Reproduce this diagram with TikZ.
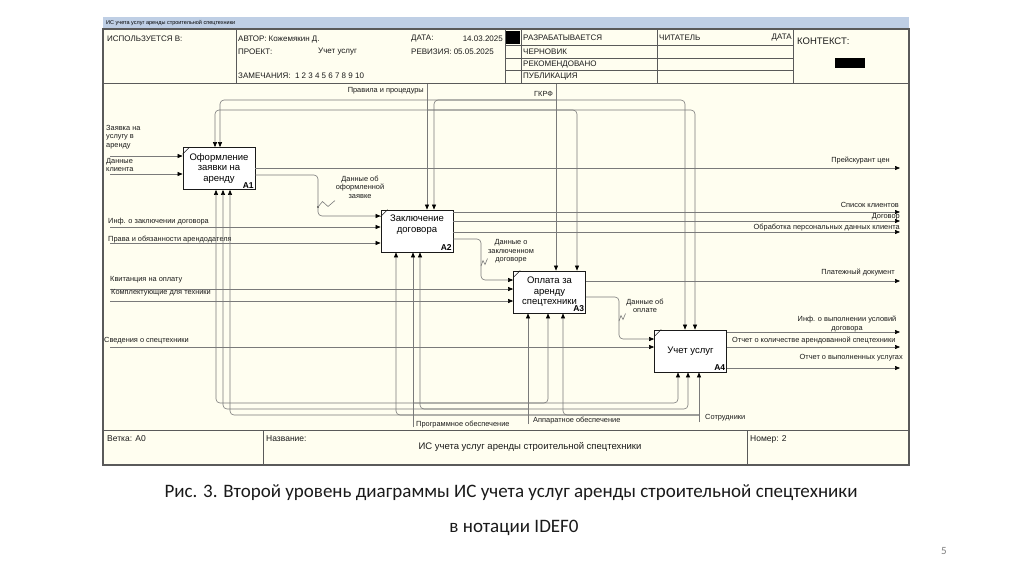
\documentclass[tikz,border=0pt]{standalone}
\usepackage{fontspec}
\setmainfont{Liberation Sans}
\newfontfamily\capfont{Carlito}
\usetikzlibrary{arrows.meta}
\definecolor{paper}{HTML}{FFFEF0}
\definecolor{band}{HTML}{BFCFE5}
\definecolor{wire}{HTML}{7A7A7A}
\definecolor{rim}{HTML}{5A5A5A}
\definecolor{ink}{HTML}{1A1A1A}
\tikzset{
  fn/.style={rectangle, draw=ink, fill=white, line width=0.8pt, minimum width=72pt,
             minimum height=42pt, align=center, inner sep=0pt,
             font=\fontsize{9.5}{10.5}\selectfont},
  fnid/.style={anchor=south east, inner sep=1.5pt, font=\bfseries\fontsize{8.5}{9}\selectfont},
  fl/.style={draw=wire, line width=0.6pt, rounded corners=4pt,
             -{Triangle[length=5pt,width=4pt,color=black]}},
  ln/.style={draw=wire, line width=0.6pt},
  lbl/.style={inner sep=0pt, text=ink, font=\fontsize{7.4}{8.5}\selectfont},
  hd/.style={anchor=west, inner sep=0pt, text=ink, font=\fontsize{8}{9}\selectfont},
  ft/.style={anchor=west, inner sep=0pt, text=ink, font=\fontsize{8.5}{9}\selectfont}
}
\begin{document}
\begin{tikzpicture}[x=1pt,y=-1pt]
  \useasboundingbox (0,0) rectangle (1024,574);
  \fill[white] (0,0) rectangle (1024,574);

  % sheet and title band
  \fill[paper] (103,29) rectangle (909,465);
  \fill[band] (103,17) rectangle (909,29);
  \node[anchor=west, inner sep=0pt, font=\fontsize{5.5}{6}\selectfont] (band) at (106,23)
    {ИС учета услуг аренды строительной спецтехники};

  % header grid
  \draw[rim] (103,83) -- (909,83);
  \foreach \x in {236,505,521,657,793} \draw[rim] (\x,29) -- (\x,83);
  \foreach \r in {45,58,70} \draw[rim] (505,\r) -- (793,\r);
  \fill[black] (506,31) rectangle (520,44);
  \fill[black] (835,58) rectangle (865,68);

  \node[hd] (used) at (107,39) {ИСПОЛЬЗУЕТСЯ В:};
  \node[hd] (author) at (238,39) {АВТОР: Кожемякин Д.};
  \node[hd] (project) at (238,52) {ПРОЕКТ:};
  \node[hd] (projname) at (318,52) {Учет услуг};
  \node[hd] (notes) at (238,76) {ЗАМЕЧАНИЯ:\ \ 1 2 3 4 5 6 7 8 9 10};
  \node[hd] (date) at (411,39) {ДАТА:};
  \node[hd, anchor=east] (dateval) at (503,39) {14.03.2025};
  \node[hd] (rev) at (411,52) {РЕВИЗИЯ: 05.05.2025};
  \node[hd] (st1) at (523,38) {РАЗРАБАТЫВАЕТСЯ};
  \node[hd] (st2) at (523,51.5) {ЧЕРНОВИК};
  \node[hd] (st3) at (523,64) {РЕКОМЕНДОВАНО};
  \node[hd] (st4) at (523,76.5) {ПУБЛИКАЦИЯ};
  \node[hd] (reader) at (659,38) {ЧИТАТЕЛЬ};
  \node[hd, anchor=east] (rdate) at (792,38) {ДАТА};
  \node[hd, font=\fontsize{9.5}{10}\selectfont] (context) at (797,41) {КОНТЕКСТ:};

  % footer
  \draw[rim] (103,430) -- (909,430);
  \draw[rim] (263,430) -- (263,465);
  \draw[rim] (747,430) -- (747,465);
  \node[ft] (branch) at (107,439) {Ветка: A0};
  \node[ft] (name) at (266,439) {Название:};
  \node[ft, anchor=center, font=\fontsize{9.5}{10}\selectfont] (title) at (530,447)
    {ИС учета услуг аренды строительной спецтехники};
  \node[ft] (number) at (750,439) {Номер: 2};
  \draw[rim, line width=1.2pt] (103,29) rectangle (909,465);

  % function blocks
  \node[fn] (a1) at (219,168.5) {Оформление\\заявки на\\аренду};
  \node[fn] (a2) at (417,231) {Заключение\\договора\\[4pt]};
  \node[fn] (a3) at (549.5,292) {Оплата за\\аренду\\спецтехники};
  \node[fn] (a4) at (690.5,351) {Учет услуг};
  \foreach \b/\t in {a1/A1,a2/A2,a3/A3,a4/A4} {
    \node[fnid] (\b id) at (\b.south east) {\t};
    \draw[ink, line width=0.6pt] (\b.north west) ++(0,7) -- ++(7,-7);
  }

  % inputs
  \coordinate (i1) at (110,156);
  \coordinate (i2) at (110,174);
  \coordinate (i3) at (110,227);
  \coordinate (i4) at (110,243);
  \coordinate (i5) at (110,289);
  \coordinate (i6) at (110,301);
  \coordinate (i7) at (110,347);
  \foreach \c/\b in {i1/a1,i2/a1,i3/a2,i4/a2,i5/a3,i6/a3,i7/a4}
    \draw[fl] (\c) -- (\c -| \b.west);

  \node[lbl, anchor=north west, align=left] (li1) at (106,125) {Заявка на\\услугу в\\аренду};
  \node[lbl, anchor=north west, align=left] (li2) at (106,158) {Данные\\клиента};
  \node[lbl, anchor=west] (li3) at (108,222) {Инф. о заключении договора};
  \node[lbl, anchor=west] (li4) at (108,240) {Права и обязанности арендодателя};
  \node[lbl, anchor=west] (li5) at (110,280) {Квитанция на оплату};
  \node[lbl, anchor=west] (li6) at (111,293) {Комплектующие для техники};
  \node[lbl, anchor=west] (li7) at (104,341) {Сведения о спецтехники};

  % outputs
  \coordinate (o1) at (900,168);
  \coordinate (o2) at (900,212);
  \coordinate (o3) at (900,221);
  \coordinate (o4) at (900,232);
  \coordinate (o5) at (900,281);
  \coordinate (o6) at (900,332);
  \coordinate (o7) at (900,347);
  \coordinate (o8) at (900,368);
  \foreach \c/\b in {o1/a1,o2/a2,o3/a2,o4/a2,o5/a3,o6/a4,o7/a4,o8/a4}
    \draw[fl] (\c -| \b.east) -- (\c);

  \node[lbl, anchor=east] (lo1) at (890,161) {Прейскурант цен};
  \node[lbl, anchor=east] (lo2) at (899,205) {Список клиентов};
  \node[lbl, anchor=east] (lo3) at (900,217) {Договор};
  \node[lbl, anchor=east] (lo4) at (900,227.5) {Обработка персональных данных клиента};
  \node[lbl, anchor=east] (lo5) at (895,273) {Платежный документ};
  \node[lbl, align=center] (lo6) at (847,324) {Инф. о выполнении условий\\договора};
  \node[lbl, anchor=west] (lo7) at (732,341) {Отчет о количестве арендованной спецтехники};
  \node[lbl, anchor=east] (lo8) at (903,358) {Отчет о выполненных услугах};

  % links between blocks
  \draw[fl] (a1.east |- 0,175) -| (318,216) -- (a2.west |- 0,216);
  \draw[fl] (a2.east |- 0,239) -| (481,280) -- (a3.west |- 0,280);
  \draw[fl] (a3.east |- 0,297) -| (619,339) -- (a4.west |- 0,339);
  \node[lbl, align=center] (l12) at (360,187) {Данные об\\оформленной\\заявке};
  \node[lbl, align=center] (l23) at (511,251.5) {Данные о\\заключенном\\договоре};
  \node[lbl, align=center] (l34) at (645,306) {Данные об\\оплате};
  \fill[ink] (318,207) circle (0.9);
  \draw[ln] (318,207) -- (322.5,201.5) -- (328,206.5) -- (335,200.5);
  \draw[ln] (481,266) -- (483,260.5) -- (485,264.5) -- (487.5,258.5);
  \draw[ln] (619,321) -- (621,315.5) -- (623,319.5) -- (625.5,313.5);

  % controls
  \coordinate (gk) at (556,84);
  \coordinate (pr) at (427,84);
  \draw[fl] (gk) -- (gk |- a3.north);
  \draw[fl] (pr) -- (pr |- a2.north);
  \draw[fl] (gk |- 0,100) -| (a1.north -| 220,0);
  \draw[fl] (gk |- 0,100) -| (a2.north -| 434,0);
  \draw[fl] (gk |- 0,100) -| (a4.north -| 685,0);
  \draw[fl] (pr |- 0,110) -| (a1.north -| 215,0);
  \draw[fl] (pr |- 0,110) -| (a3.north -| 577,0);
  \draw[fl] (pr |- 0,110) -| (a4.north -| 695,0);
  \node[lbl, anchor=east] (lpr) at (424,91) {Правила и процедуры};
  \node[lbl, anchor=west] (lgk) at (534,94) {ГКРФ};

  % mechanisms
  \coordinate (po) at (413,427);
  \coordinate (ao) at (528,424);
  \coordinate (so) at (699,422);
  \draw[fl] (po) -- (po |- a2.south);
  \draw[fl] (ao) -- (ao |- a3.south);
  \draw[fl] (so) -- (so |- a4.south);
  \draw[fl] (po |- 0,403) -| (a1.south -| 216,0);
  \draw[fl] (po |- 0,403) -| (a3.south -| 548,0);
  \draw[fl] (po |- 0,403) -| (a4.south -| 678,0);
  \draw[fl] (ao |- 0,409) -| (a2.south -| 420,0);
  \draw[fl] (ao |- 0,409) -| (a1.south -| 223,0);
  \draw[fl] (ao |- 0,409) -| (a4.south -| 688,0);
  \draw[fl] (so |- 0,415) -| (a1.south -| 230,0);
  \draw[fl] (so |- 0,415) -| (a2.south -| 396,0);
  \draw[fl] (so |- 0,415) -| (a3.south -| 563,0);
  \node[lbl, anchor=west] (lpo) at (416,425) {Программное обеспечение};
  \node[lbl, anchor=west] (lao) at (533,421) {Аппаратное обеспечение};
  \node[lbl, anchor=west] (lso) at (705,418) {Сотрудники};

  % caption
  \node[text=ink, font=\capfont\fontsize{19}{21}\selectfont] (cap1) at (511,493)
    {Рис. 3. Второй уровень диаграммы ИС учета услуг аренды строительной спецтехники};
  \node[text=ink, font=\capfont\fontsize{19}{21}\selectfont] (cap2) at (514,528) {в нотации IDEF0};
  \node[text=gray, font=\capfont\fontsize{11}{12}\selectfont] (page) at (944,551) {5};
\end{tikzpicture}
\end{document}
